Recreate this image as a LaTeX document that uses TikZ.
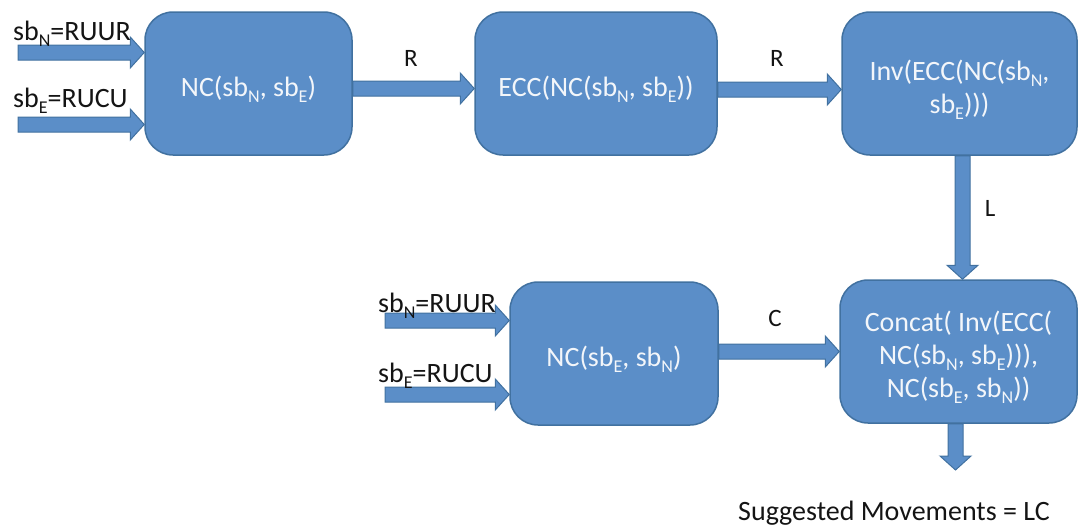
\documentclass[tikz,border=0pt]{standalone}
\usepackage{fontspec}
\setmainfont{Carlito}
\usetikzlibrary{calc,backgrounds}
\definecolor{boxfill}{RGB}{91,142,200}
\definecolor{boxline}{RGB}{65,113,160}
\definecolor{boxtext}{RGB}{243,246,250}
\definecolor{lbltext}{RGB}{20,20,20}
\newcommand\mysub[1]{\raisebox{-0.22em}{\fontsize{18}{20}\selectfont #1}}
\newcommand\sbN{sb\mysub{N}}
\newcommand\sbE{sb\mysub{E}}
\newcommand\btext[1]{\raisebox{-6.5pt}[\height][\depth]{\begin{tabular}{@{}c@{}}#1\end{tabular}}}
\newcommand\rarr[2]{\path[blockarrow] let \p1=#1, \p2=#2 in (\x1,\y1+7.5pt) -- (\x2-14pt,\y1+7.5pt) -- (\x2-14pt,\y1+15.5pt) -- (\x2,\y1) -- (\x2-14pt,\y1-15.5pt) -- (\x2-14pt,\y1-7.5pt) -- (\x1,\y1-7.5pt) -- cycle;}
\newcommand\darr[2]{\path[blockarrow] let \p1=#1, \p2=#2 in (\x1-7.5pt,\y1) -- (\x1-7.5pt,\y2+14pt) -- (\x1-15.5pt,\y2+14pt) -- (\x1,\y2) -- (\x1+15.5pt,\y2+14pt) -- (\x1+7.5pt,\y2+14pt) -- (\x1+7.5pt,\y1) -- cycle;}
\begin{document}
\begin{tikzpicture}[x=1pt,y=-1pt,
  box/.style={draw=boxline, fill=boxfill, line width=1.5pt, rounded corners=28pt,
    text=boxtext, font=\fontsize{28}{33}\selectfont, inner sep=0pt},
  blockarrow/.style={fill=boxfill, draw=boxline, line width=1pt, line join=miter},
  lbl/.style={text=lbltext, font=\fontsize{28}{33}\selectfont, inner sep=0pt},
  edgelbl/.style={text=lbltext, font=\fontsize{25}{30}\selectfont, inner sep=0pt}]
\useasboundingbox (0,0) rectangle (1078,528);
% boxes
\node[box, minimum width=207pt, minimum height=143pt] (n1) at (248.5,83.5) {\btext{NC(\sbN, \sbE)}};
\node[box, minimum width=242pt, minimum height=143pt] (n2) at (596,83.5) {\btext{ECC(NC(\sbN, \sbE))}};
\node[box, minimum width=235pt, minimum height=143pt] (n3) at (959.5,83.5) {\btext{Inv(ECC(NC(\sbN,\\ \sbE)))}};
\node[box, minimum width=208pt, minimum height=143pt] (n4) at (614,353.5) {\btext{NC(\sbE, \sbN)}};
\node[box, minimum width=237pt, minimum height=143pt] (n5) at (958.5,351.5) {\btext{Concat( Inv(ECC(\\ NC(\sbN, \sbE))),\\ NC(\sbE, \sbN))}};
% free ends
\coordinate (in1) at (18,52.5);
\coordinate (in2) at (18,124.5);
\coordinate (in3) at (385,320.5);
\coordinate (in4) at (385,394.5);
\coordinate (out) at (955.5,470);
% connectors
\begin{scope}[on background layer]
\rarr{(in1)}{(n1.west)}
\rarr{(in2)}{(n1.west)}
\rarr{($(n1.east)+(0,5)$)}{(n2.west)}
\rarr{($(n2.east)+(0,6)$)}{(n3.west)}
\darr{($(n3.south)+(3,0)$)}{(n5.north)}
\rarr{(in3)}{(n4.west)}
\rarr{(in4)}{(n4.west)}
\rarr{($(n4.east)+(0,-2)$)}{(n5.west)}
\darr{($(n5.south)+(-3,0)$)}{(out)}
\end{scope}
% labels
\node[lbl, anchor=base west] (l1) at (13,40) {\sbN=RUUR};
\node[lbl, anchor=base west] (l2) at (13,107) {\sbE=RUCU};
\node[lbl, anchor=base west] (l3) at (378,312) {\sbN=RUUR};
\node[lbl, anchor=base west] (l4) at (378,382) {\sbE=RUCU};
\node[edgelbl, anchor=base] (e1) at (411,66) {R};
\node[edgelbl, anchor=base] (e2) at (777,66) {R};
\node[edgelbl, anchor=base] (e3) at (990,216) {L};
\node[edgelbl, anchor=base] (e4) at (775,326) {C};
\node[lbl, anchor=base west] (sm) at (738,520.5) {Suggested Movements = LC};
\end{tikzpicture}
\end{document}
